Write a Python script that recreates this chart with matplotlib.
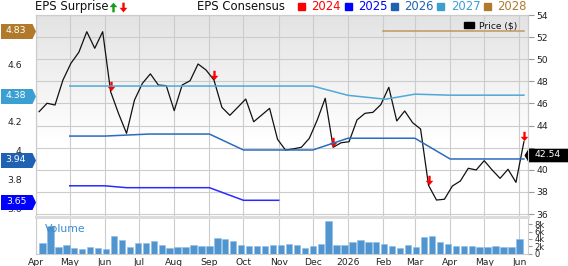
import datetime as dt

import matplotlib
matplotlib.use("Agg")
import matplotlib.pyplot as plt
import matplotlib.dates as mdates
import numpy as np
from matplotlib.lines import Line2D
from matplotlib.patches import Rectangle
from matplotlib.path import Path
from matplotlib.transforms import blended_transform_factory, offset_copy

# ---- data -----------------------------------------------------------------
price_start = dt.date(2025, 4, 4)
price = [45.26, 46.02, 45.86, 48.12, 49.63, 50.63, 52.49, 50.99, 52.49, 47.07,
         45.08, 43.30, 46.31, 47.82, 48.68, 47.67, 47.61, 45.35, 47.67, 48.06,
         49.57, 49.03, 48.12, 45.65, 44.93, 45.66, 46.40, 44.35, 44.95, 45.56,
         42.76, 41.79, 41.90, 42.04, 42.85, 44.51, 46.47, 42.04, 42.45, 42.54,
         44.51, 45.11, 45.20, 45.90, 47.46, 44.42, 45.32, 44.26, 43.69, 38.60,
         37.27, 37.34, 38.54, 38.99, 40.14, 39.99, 40.83, 39.99, 39.23, 40.05,
         38.87, 42.54]
surprise_idx = [9, 22, 37, 49, 61]  # negative surprises

vol_start = dt.date(2025, 4, 7)
volume_k = [2.75, 7.5, 1.75, 2.3, 1.56, 1.1, 1.75, 1.4, 1.2, 4.9, 3.7, 1.75,
            2.75, 2.75, 3.4, 2.4, 1.4, 1.8, 1.75, 2.2, 2.0, 2.0, 4.3, 3.9,
            3.4, 2.4, 2.1, 2.1, 2.1, 2.3, 2.2, 2.7, 2.3, 1.56, 2.1, 2.7, 9.0,
            2.4, 2.2, 3.1, 3.6, 3.2, 3.1, 2.5, 2.0, 1.5, 2.3, 1.65, 4.6, 4.9,
            3.2, 2.6, 2.0, 2.0, 2.0, 1.75, 1.65, 2.1, 1.9, 1.65, 3.9]

years = ["2024", "2025", "2026", "2027", "2028"]
year_colors = ["#ff0000", "#0000ff", "#1f62b3", "#3c9fd3", "#b07a2a"]
line_colors = {"2025": "#2a2aff", "2026": "#2a6cbd", "2027": "#4fa8d8", "2028": "#c09660"}

eps_lines = {
    "2025": ([dt.date(2025, 5, 1), dt.date(2025, 6, 1), dt.date(2025, 6, 20), dt.date(2025, 9, 1),
              dt.date(2025, 10, 1), dt.date(2025, 11, 1)],
             [3.76, 3.76, 3.747, 3.747, 3.66, 3.66]),
    "2026": ([dt.date(2025, 5, 1), dt.date(2025, 6, 1), dt.date(2025, 7, 10), dt.date(2025, 9, 1),
              dt.date(2025, 10, 1), dt.date(2025, 12, 1), dt.date(2026, 1, 1), dt.date(2026, 3, 1),
              dt.date(2026, 4, 1), dt.date(2026, 6, 5)],
             [4.103, 4.103, 4.117, 4.117, 4.007, 4.007, 4.088, 4.088, 3.945, 3.945]),
    "2027": ([dt.date(2025, 5, 1), dt.date(2025, 12, 1), dt.date(2026, 1, 1), dt.date(2026, 2, 3),
              dt.date(2026, 3, 1), dt.date(2026, 4, 1), dt.date(2026, 6, 5)],
             [4.448, 4.448, 4.384, 4.357, 4.392, 4.385, 4.385]),
    "2028": ([dt.date(2026, 2, 1), dt.date(2026, 6, 5)], [4.83, 4.83]),
}
eps_labels = [("4.83", 4.83, "#b07a2a"), ("4.38", 4.38, "#3c9fd3"),
              ("3.94", 3.94, "#1f62b3"), ("3.65", 3.65, "#0000ff")]

month_labels = ["Apr", "May", "Jun", "Jul", "Aug", "Sep", "Oct", "Nov", "Dec",
                "2026", "Feb", "Mar", "Apr", "May", "Jun"]
month_starts = [dt.date(2025 + (3 + i) // 12, (3 + i) % 12 + 1, 1) for i in range(len(month_labels))]

price_ticks = list(range(36, 55, 2))
price_ticklabels = ["" if p == 42 else str(p) for p in price_ticks]   # 42 sits under the price tag
eps_ticks = [3.6, 3.8, 4.0, 4.2, 4.4, 4.6, 4.8]
eps_ticklabels = ["3.6", "3.8", "4", "4.2", "", "4.6", ""]           # 4.4 / 4.8 sit under the tags
vol_ticks = [0, 2, 4, 6, 8]
vol_ticklabels = ["0", "2k", "4k", "6k", "8k"]

# ---- figure ---------------------------------------------------------------
W, H = 568, 266
fig = plt.figure(figsize=(W / 100, H / 100), dpi=100)
fs_tick = 6.7
grid_c = "#cccccc"


def box(x0, y0, x1, y1):
    return [x0 / W, 1 - y1 / H, (x1 - x0) / W, (y1 - y0) / H]


ax = fig.add_axes(box(35.7, 15, 528, 216))       # price axis (right), carries grid
axe = ax.twinx()                                  # eps axis (left)
axv = fig.add_axes(box(35.7, 217, 528, 253.5), sharex=ax)

x0 = mdates.date2num(dt.date(2025, 4, 1))
x1 = mdates.date2num(dt.date(2026, 6, 8)) + 0.6

# background gradient
t = np.linspace(0, 1, 200)
g = 0.89 + 0.11 * np.minimum(1, t / 0.62)
ax.imshow(np.dstack([g, g, g]).reshape(200, 1, 3), extent=[0, 1, 0, 1],
          transform=ax.transAxes, aspect="auto", zorder=0, interpolation="bilinear")

ax.set_xlim(x0, x1)
ax.set_ylim(54 - (216 - 15) / 11.06, 54)
axe.set_ylim(4.6 - (216 - 64) / 145, 4.6 + (64 - 15) / 145)

ax.set_xticks(mdates.date2num(month_starts))
ax.set_yticks(price_ticks)
ax.set_yticklabels(price_ticklabels)
ax.grid(True, color=grid_c, lw=0.8)
ax.set_axisbelow(True)
ax.yaxis.tick_right()
ax.tick_params(axis="y", length=4, color="#999999", labelsize=fs_tick, pad=2, labelcolor="#222222")
ax.tick_params(axis="x", length=0, labelbottom=False)

axe.yaxis.tick_left()
axe.set_yticks(eps_ticks)
axe.set_yticklabels(eps_ticklabels)
axe.tick_params(axis="y", length=0, labelsize=fs_tick, pad=10, labelcolor="#222222")

for a in (ax, axe):
    for s in a.spines.values():
        s.set_color(grid_c)
        s.set_linewidth(0.8)
    a.spines["bottom"].set_visible(False)

# eps consensus lines
for yr, (d, v) in eps_lines.items():
    axe.plot(mdates.date2num(d), v, color=line_colors[yr], lw=1.1, zorder=3)

# price line
pdates = mdates.date2num([price_start + dt.timedelta(weeks=i) for i in range(len(price))])
ax.plot(pdates, price, color="#111111", lw=0.9, zorder=4)

# surprise arrows
down = Path([(-1.1, 4.5), (1.1, 4.5), (1.1, -0.3), (3.6, -0.3), (0, -4.5),
             (-3.6, -0.3), (-1.1, -0.3), (-1.1, 4.5)])
up = Path([(x, -y) for x, y in down.vertices])
arr_tr = offset_copy(ax.transData, fig=fig, y=5.5 * 0.72, units="points")
for i in surprise_idx:
    ax.plot(pdates[i], price[i], marker=down, ms=6.8, color="#ff0000", mec="none",
            transform=arr_tr, zorder=6, clip_on=False)

# left eps value tags
tag = Path([(-17.5, -7.5), (14, -7.5), (17.5, 0), (14, 7.5), (-17.5, 7.5), (-17.5, -7.5)])
tr_left = blended_transform_factory(ax.transAxes, axe.transData)
for txt, v, c in eps_labels:
    axe.plot([(17.5 - 35.7) / 492.3], [v], marker=tag, ms=35 * 0.72, color=c, mec="none",
             transform=tr_left, clip_on=False, zorder=8)
    axe.text((16 - 35.7) / 492.3, v, txt, transform=tr_left, color="white", fontsize=6.7,
             ha="center", va="center", zorder=9, clip_on=False)

# last price tag
ptag = Path([(-22, 0), (-18, 6.8), (22, 6.8), (22, -6.8), (-18, -6.8), (-22, 0)])
tr_right = offset_copy(blended_transform_factory(ax.transAxes, ax.transData), fig=fig,
                       y=-12.8 * 0.72, units="points")
ax.plot([(546 - 35.7) / 492.3], [price[-1]], marker=ptag, ms=44 * 0.72, color="black",
        mec="none", transform=tr_right, clip_on=False, zorder=8)
ax.text((548 - 35.7) / 492.3, price[-1], f"{price[-1]:.2f}", transform=tr_right, color="white",
        fontsize=6.7, ha="center", va="center", zorder=9, clip_on=False)

# price legend inside plot
fig.patches.append(Rectangle((464 / W, 1 - 27.5 / H), 10 / W, 5.5 / H, transform=fig.transFigure,
                             color="black", zorder=5))
fig.text(479 / W, 1 - 25.5 / H, "Price ($)", fontsize=6.6, va="center", ha="left", color="#111111")

# volume panel
vdates = mdates.date2num([vol_start + dt.timedelta(weeks=i) for i in range(len(volume_k))])
axv.bar(vdates, volume_k, width=5.6, color="#5094d0", edgecolor="#8fbde4", lw=0.4, zorder=3)
axv.set_ylim(0, (253.5 - 217) / 3.66)
axv.set_xlim(x0, x1)
axv.set_xticks(mdates.date2num(month_starts))
axv.set_xticklabels(month_labels)
axv.grid(True, axis="x", color=grid_c, lw=0.8)
axv.set_axisbelow(True)
axv.yaxis.tick_right()
axv.set_yticks(vol_ticks)
axv.set_yticklabels(vol_ticklabels)
axv.tick_params(axis="y", length=3, color="#999999", labelsize=6, pad=1.5, labelcolor="#222222")
axv.tick_params(axis="x", length=0, labelsize=fs_tick, pad=3, labelcolor="#222222")
for s in axv.spines.values():
    s.set_color(grid_c)
    s.set_linewidth(0.8)
axv.spines["top"].set_color("#dcdcdc")
axv.spines["top"].set_linewidth(2.2)
axv.text((45 - 35.7) / 492.3, 0.66, "Volume", transform=axv.transAxes,
         color="#3a8ccf", fontsize=7.8, ha="left", va="center", zorder=5)

# header
fig.text(35 / W, 1 - 6.5 / H, "EPS Surprise", fontsize=8.4, ha="left", va="center", color="#111111")
fig.add_artist(Line2D([112.5 / W], [1 - 6.5 / H], marker=up, ms=7, color="#1a9a1a", mec="none",
                      transform=fig.transFigure))
fig.add_artist(Line2D([122.5 / W], [1 - 6.5 / H], marker=down, ms=7, color="#ff0000", mec="none",
                      transform=fig.transFigure))
fig.text(197 / W, 1 - 6.5 / H, "EPS Consensus", fontsize=8.4, ha="left", va="center", color="#111111")
for i, (yr, c) in enumerate(zip(years, year_colors)):
    xs = 298 + i * 46.5
    fig.patches.append(Rectangle((xs / W, 1 - 10 / H), 7 / W, 7 / H, transform=fig.transFigure,
                                 color=c))
    fig.text((xs + 13.5) / W, 1 - 6.5 / H, yr, fontsize=8.4, ha="left", va="center", color=c)

fig.savefig("out.png", dpi=100)
